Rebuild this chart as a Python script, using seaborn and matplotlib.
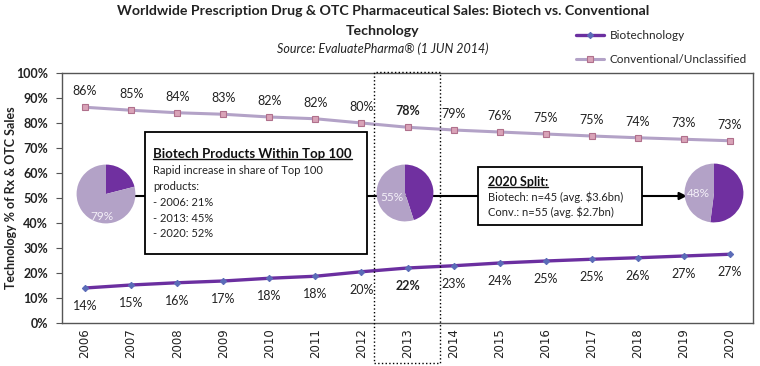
import numpy as np
import pandas as pd
import seaborn as sns
import matplotlib.pyplot as plt
from matplotlib.patches import Rectangle, FancyArrowPatch
from matplotlib.lines import Line2D
import matplotlib.transforms as mtransforms

# DATA
years = [str(y) for y in range(2006, 2021)]
biotech = [14.0, 15.2, 16.1, 16.8, 17.9, 18.7, 20.5, 22.0, 22.9, 24.0, 24.8, 25.5, 26.1, 26.8, 27.5]
conventional = [86.3, 85.1, 84.1, 83.5, 82.4, 81.7, 80.0, 78.3, 77.2, 76.4, 75.6, 74.8, 74.1, 73.5, 72.9]
biotech_labels = ['14%', '15%', '16%', '17%', '18%', '18%', '20%', '22%', '23%',
                  '24%', '25%', '25%', '26%', '27%', '27%']
conv_labels = ['86%', '85%', '84%', '83%', '82%', '82%', '80%', '78%', '79%',
               '76%', '75%', '75%', '74%', '73%', '73%']
highlight_year = '2013'

pie_biotech = [21, 45, 52]
pie_conv_labels = ['79%', '55%', '48%']

box1_title = 'Biotech Products Within Top 100'
box1_lines = ['Rapid increase in share of Top 100', 'products:',
              '- 2006: 21%', '- 2013: 45%', '- 2020: 52%']
box2_title = '2020 Split:'
box2_lines = ['Biotech: n=45 (avg. $3.6bn)', 'Conv.: n=55 (avg. $2.7bn)']

DARK = '#7030A0'
LIGHT = '#B3A2C7'
W, H = 760, 366

sns.set_theme(style='white')
plt.rcParams['font.family'] = ['Lato', 'DejaVu Sans']


def px(x, y):
    # figure pixel (from top-left) -> figure fraction
    return x / W, 1 - y / H


df = pd.DataFrame({'idx': np.arange(len(years)), 'year': years,
                   'Biotechnology': biotech,
                   'Conventional/Unclassified': conventional})

fig = plt.figure(figsize=(7.6, 3.66), dpi=100)
ax = fig.add_axes([62 / W, 1 - 323 / H, (753 - 62) / W, (323 - 73) / H])
ax.set_zorder(0)

sns.lineplot(data=df, x='idx', y='Biotechnology', ax=ax, color='#6B2FA0', lw=2.4,
             marker='D', markersize=3.2, markerfacecolor='#5B6CB8',
             markeredgecolor='#5B6CB8', label='Biotechnology', legend=False)
sns.lineplot(data=df, x='idx', y='Conventional/Unclassified', ax=ax, color=LIGHT, lw=2.2,
             marker='s', markersize=5, markerfacecolor='#D9A3B8',
             markeredgecolor='#B0708C', markeredgewidth=0.8,
             label='Conventional/Unclassified', legend=False)

# data labels
for i, (b, c) in enumerate(zip(biotech, conventional)):
    w = 'bold' if years[i] == highlight_year else 'normal'
    ax.annotate(conv_labels[i], (i, c), xytext=(0, 16), textcoords='offset pixels',
                ha='center', va='center', fontsize=9, weight=w, color='#222222')
    ax.annotate(biotech_labels[i], (i, b), xytext=(0, -18), textcoords='offset pixels',
                ha='center', va='center', fontsize=9, weight=w, color='#222222')

ax.set_xlim(-0.5, len(years) - 0.5)
ax.set_ylim(0, 100)
ax.set_yticks(np.arange(0, 101, 10))
ax.set_yticklabels([f'{v}%' for v in range(0, 101, 10)], fontsize=9, weight='bold', color='#222222')
ax.set_xticks(np.arange(len(years)))
ax.set_xticklabels(years, rotation=90, fontsize=8.5, family='DejaVu Sans', color='#222222')
ax.set_xticks(np.arange(-0.5, len(years)), minor=True)
ax.tick_params(axis='x', which='major', length=0, pad=4)
ax.tick_params(axis='x', which='minor', length=4, direction='out', color='#555555', width=0.8)
ax.tick_params(axis='y', length=4, direction='out', color='#555555', width=0.8, pad=6, left=True)
ax.set_xlabel('')
ax.set_ylabel('Technology % of Rx & OTC Sales', fontsize=9, weight='bold', color='#222222',
              va='center')
ax.yaxis.set_label_coords(-51 / 691, 0.5)
for s in ax.spines.values():
    s.set_color('#555555')
    s.set_linewidth(1.0)

# dotted highlight box around 2013
hi = years.index(highlight_year)
trans = mtransforms.blended_transform_factory(ax.transData, ax.transAxes)
ax.add_patch(Rectangle((hi - 0.73, -0.16), 1.43, 1.165, transform=trans, fill=False,
                       ls=':', lw=1.0, ec='black', clip_on=False, zorder=5))

# title
fig.text(*px(383, 11), 'Worldwide Prescription Drug & OTC Pharmaceutical Sales: Biotech vs. Conventional',
         ha='center', va='center', fontsize=10.2, weight='bold', color='#222222')
fig.text(*px(383, 31), 'Technology', ha='center', va='center', fontsize=10.2, weight='bold', color='#222222')
fig.text(*px(383, 49), 'Source: EvaluatePharma\u00ae (1 JUN 2014)', ha='center', va='center',
         fontsize=9, style='italic', color='#222222')

# legend
handles, labels = ax.get_legend_handles_labels()
fig.legend(handles, labels, loc='upper left', bbox_to_anchor=px(576, 30), frameon=False,
           fontsize=8.5, handlelength=2.4, labelspacing=1.1, handletextpad=0.45,
           borderaxespad=0, borderpad=0)

# connector line and arrow
cy = 196
fig.add_artist(Line2D([px(106, cy)[0], px(478, cy)[0]], [px(0, cy)[1]] * 2,
                      color='black', lw=1.5, zorder=1))
fig.add_artist(FancyArrowPatch(px(642, cy), px(687, cy), transform=fig.transFigure,
                               arrowstyle='-|>', mutation_scale=11, color='black',
                               lw=1.5, zorder=1, shrinkA=0, shrinkB=0))

# text boxes
fig.add_artist(Rectangle(px(145, 254), 222 / W, 122 / H, transform=fig.transFigure,
                         fc='white', ec='black', lw=1.3, zorder=2))
fig.add_artist(Rectangle(px(478, 225), 164 / W, 58 / H, transform=fig.transFigure,
                         fc='white', ec='black', lw=1.3, zorder=2))

t1 = fig.text(*px(153, 154), box1_title, ha='left', va='center', fontsize=9.5,
              weight='bold', color='#111111', zorder=3)
for k, line in enumerate(box1_lines):
    fig.text(*px(153, 171 + k * 15.7), line, ha='left', va='center', fontsize=8,
             color='#222222', zorder=3)
t2 = fig.text(*px(488, 182), box2_title, ha='left', va='center', fontsize=9,
              weight='bold', color='#111111', zorder=3)
for k, line in enumerate(box2_lines):
    fig.text(*px(488, 197 + k * 15), line, ha='left', va='center', fontsize=8,
             color='#222222', zorder=3)

# pies
pie_spec = [(106, 194, 30), (405, 193, 29), (714, 193, 30)]
label_off = [(-0.13, -0.77), (-0.45, -0.17), (-0.53, -0.03)]
for (cx, cyy, r), b, lab, (lx, ly) in zip(pie_spec, pie_biotech, pie_conv_labels, label_off):
    pax = fig.add_axes([(cx - r) / W, 1 - (cyy + r) / H, 2 * r / W, 2 * r / H])
    pax.set_zorder(4)
    pax.pie([b, 100 - b], colors=[DARK, LIGHT], startangle=90, counterclock=False,
            radius=1, wedgeprops=dict(linewidth=0))
    pax.set_xlim(-1.02, 1.02)
    pax.set_ylim(-1.02, 1.02)
    pax.set_aspect('auto')
    pax.axis('off')
    pax.text(lx, ly, lab, ha='center', va='center', fontsize=8.5, color='#F4F0F8')

# underline box titles
fig.canvas.draw()
inv = fig.transFigure.inverted()
for t in (t1, t2):
    bb = t.get_window_extent()
    (x0, y0), (x1, _) = inv.transform([(bb.x0, bb.y0 + 1), (bb.x1, bb.y0 + 1)])
    fig.add_artist(Line2D([x0, x1], [y0, y0], color='#111111', lw=1.0, zorder=3))

fig.savefig('out.png', dpi=100)
